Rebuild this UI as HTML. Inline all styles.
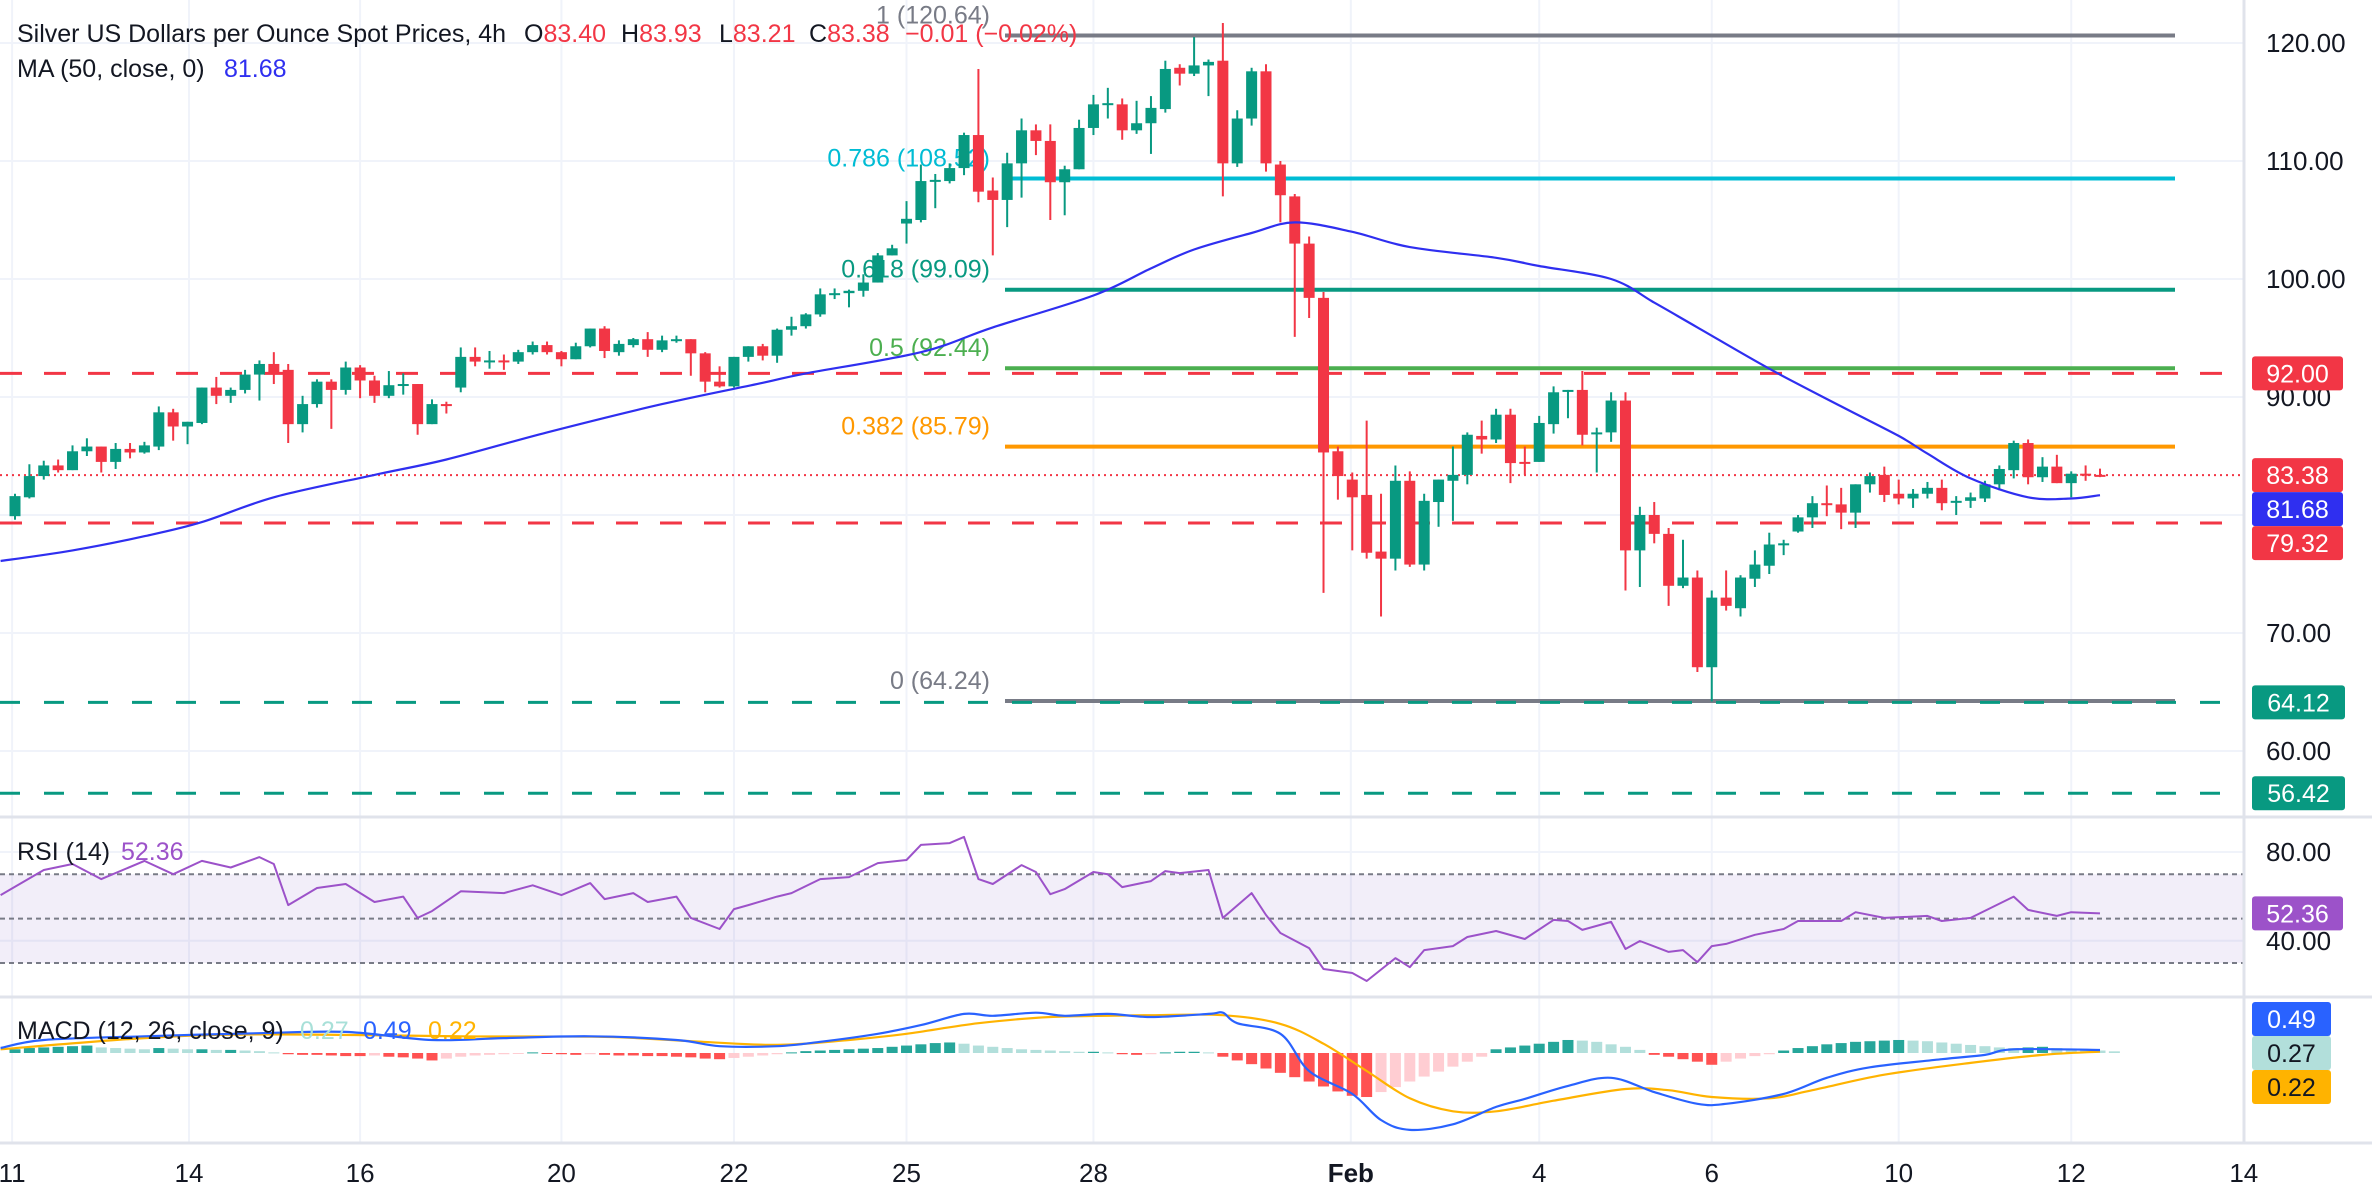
<!DOCTYPE html>
<html><head><meta charset="utf-8"><title>Silver 4h chart</title>
<style>
html,body{margin:0;padding:0;background:#fff;}
svg{display:block;font-family:"Liberation Sans",sans-serif;}
</style></head>
<body>
<svg id="chart" xmlns="http://www.w3.org/2000/svg" width="2372" height="1200" viewBox="0 0 2372 1200">
<rect x="0" y="0" width="2372" height="1200" fill="#ffffff"/>
<g id="grid"></g>
<g id="fib"></g>
<g id="levels"></g>
<g id="candles"></g>
<g id="ma"></g>
<g id="rsi"></g>
<g id="macd"></g>
<g id="axes"></g>
<g id="legend">
  <text x="17" y="42" font-size="25" fill="#131722">Silver US Dollars per Ounce Spot Prices, 4h</text>
  <text y="42" font-size="25"><tspan x="524" fill="#131722">O</tspan><tspan fill="#f23645">83.40</tspan><tspan x="621" fill="#131722">H</tspan><tspan fill="#f23645">83.93</tspan><tspan x="719" fill="#131722">L</tspan><tspan fill="#f23645">83.21</tspan><tspan x="809" fill="#131722">C</tspan><tspan fill="#f23645">83.38</tspan><tspan x="905" fill="#f23645">−0.01 (−0.02%)</tspan></text>
  <text x="17" y="77" font-size="25"><tspan fill="#131722">MA (50, close, 0)</tspan><tspan x="224" fill="#2f2ff0">81.68</tspan></text>
  <text x="17" y="860" font-size="25"><tspan fill="#131722">RSI (14)</tspan><tspan x="121" fill="#9c52c9">52.36</tspan></text>
  <text x="17" y="1039" font-size="25"><tspan fill="#131722">MACD (12, 26, close, 9)</tspan><tspan x="300" fill="#a8e0d8">0.27</tspan><tspan x="363" fill="#2962ff">0.49</tspan><tspan x="428" fill="#ffb300">0.22</tspan></text>
</g>
</svg>
<script>
// ---------- DATA ----------
const opens=[79.9,81.5,83.3,84.2,83.8,85.4,85.8,84.5,85.6,85.3,85.8,88.7,87.5,87.8,90.8,90.1,90.6,91.9,92.8,92.3,87.7,89.4,91.3,90.6,92.5,91.4,90.1,91.0,91.1,87.7,89.4,90.8,93.4,93.0,93.1,93.0,93.8,94.4,93.8,93.2,94.3,95.8,93.8,94.4,94.9,94.0,94.8,94.9,93.7,91.3,90.9,93.4,94.3,93.5,95.7,96.0,97.0,98.7,98.8,99.0,99.7,102.0,104.7,105.0,108.3,108.3,109.4,112.2,107.5,106.7,109.8,112.6,111.7,108.2,109.3,112.8,114.8,114.8,112.6,113.2,114.4,117.9,117.4,118.1,118.5,109.8,113.6,117.6,109.7,107.0,103.0,98.4,85.4,83.0,81.7,76.9,76.3,82.9,75.8,81.1,82.9,83.4,86.7,86.4,88.5,84.5,84.5,87.7,90.5,90.6,86.9,87.0,89.7,77.0,80.0,78.4,74.0,74.7,67.1,73.0,72.1,74.6,75.7,77.5,78.6,79.8,81.0,80.9,80.2,82.6,83.4,81.8,81.4,81.8,82.3,81.1,81.2,81.4,82.6,83.8,86.1,83.2,84.1,82.7,83.5,83.40];
const highs=[81.8,84.3,84.6,84.7,85.9,86.5,85.8,86.1,86.1,86.2,89.2,89.0,87.9,90.8,91.7,90.8,92.3,93.1,93.8,92.8,90.1,91.5,91.5,93.0,92.7,91.8,92.2,92.0,91.1,89.8,89.6,94.2,94.2,93.9,93.6,94.0,94.7,94.7,93.9,94.6,95.8,96.0,94.8,95.0,95.5,95.2,95.2,94.9,93.8,92.6,93.4,94.3,94.5,95.8,96.8,97.1,99.2,99.2,99.1,100.4,102.2,102.9,106.6,109.7,108.9,109.8,112.4,117.8,108.6,110.7,113.6,113.1,113.1,109.6,113.5,115.6,116.2,115.3,115.1,115.5,118.5,118.2,120.5,118.6,121.7,114.3,117.9,118.2,110.0,107.2,103.6,98.9,85.8,83.6,88.0,81.8,84.2,83.7,81.8,83.0,85.8,87.0,88.0,89.0,89.0,85.8,88.4,90.9,90.6,92.2,87.4,90.4,90.4,80.7,81.1,78.9,77.9,75.3,73.6,75.3,74.9,77.0,78.5,77.9,80.0,81.6,82.5,82.3,82.6,83.6,84.1,83.0,82.2,82.8,83.0,81.6,81.9,82.9,84.2,86.3,86.4,84.9,85.1,83.7,84.2,83.93];
const lows=[79.6,81.4,83.0,83.6,83.8,85.0,83.6,83.9,84.8,85.2,85.5,86.3,86.0,87.7,89.4,89.5,90.3,89.7,91.1,86.1,87.0,89.1,87.3,90.2,89.9,89.5,89.9,90.2,86.8,87.7,88.6,90.4,92.6,92.4,92.3,92.8,93.6,93.6,92.6,93.2,94.2,93.3,93.5,94.2,93.4,93.8,94.6,91.8,90.4,90.8,90.8,93.0,93.1,92.9,95.2,95.8,96.8,98.3,97.6,98.5,99.7,102.0,103.0,104.8,106.0,108.1,108.8,106.5,102.0,104.4,106.9,110.5,105.0,105.4,109.3,112.2,113.6,111.8,112.3,110.6,114.1,116.4,117.2,115.5,107.0,109.5,113.0,109.1,104.8,95.1,96.7,73.4,81.3,77.0,76.3,71.4,75.3,75.6,75.3,79.0,79.5,82.6,85.2,86.1,82.7,83.4,84.5,86.9,88.2,85.9,83.6,86.2,73.6,73.9,77.6,72.3,73.8,66.7,64.2,71.9,71.4,73.9,75.0,76.6,78.5,78.9,79.9,78.8,78.9,81.9,81.1,80.9,80.6,81.4,80.4,80.0,80.6,81.1,82.1,83.1,82.6,82.8,82.7,81.5,82.9,83.21];
const closes=[81.6,83.3,84.2,83.8,85.4,85.8,84.5,85.6,85.3,85.9,88.7,87.5,87.9,90.8,90.1,90.6,91.9,92.8,92.1,87.7,89.4,91.3,90.6,92.5,91.4,90.1,91.0,91.1,87.7,89.4,89.3,93.4,93.0,93.1,93.0,93.8,94.4,93.8,93.2,94.3,95.8,93.9,94.5,94.9,94.0,94.8,94.9,93.7,91.3,90.9,93.4,94.3,93.5,95.7,96.0,97.0,98.7,98.8,99.0,99.7,102.0,102.6,105.1,108.3,108.4,109.4,112.2,107.4,106.7,109.8,112.6,111.7,108.2,109.3,112.8,114.8,114.9,112.6,113.2,114.5,117.8,117.4,118.1,118.4,109.8,113.6,117.6,109.8,107.1,103.0,98.4,85.3,83.3,81.5,76.8,76.3,82.9,75.8,81.2,83.0,83.4,86.8,86.4,88.5,84.4,84.4,87.8,90.4,90.6,86.8,87.0,89.7,77.0,80.0,78.4,74.0,74.7,67.1,73.0,72.3,74.7,75.8,77.5,77.6,79.8,81.0,80.9,80.2,82.6,83.3,81.7,81.4,81.8,82.3,81.0,81.2,81.5,82.6,83.9,86.1,83.2,84.1,82.7,83.5,83.4,83.38];
// MA(50) readings at candle indices
const maIdx=[-1,4,9,13,18,25,30,37,45,52,55,63,68,75,79,82,86,89,93,97,103,106,111,114,117,122,127,131,133,136,140,143,145];
const maVal=[76.1,77.0,78.2,79.4,81.5,83.4,84.7,87.0,89.4,91.2,92.0,93.8,95.9,98.6,100.9,102.5,103.9,104.8,104.0,102.7,101.8,101.1,100.0,98.0,95.9,92.4,89.2,86.7,85.2,83.1,81.5,81.4,81.68];
// RSI readings
const rsiIdx=[-1,2,4,6,9,11,13,15,17,18,19,21,23,25,27,28,29,31,34,36,38,40,41,43,44,46,47,49,50,51,53,54,56,58,60,62,63,65,66,67,68,70,71,72,73,75,76,77,79,80,81,83,84,86,87,88,90,91,93,94,96,97,98,100,101,103,105,107,108,109,111,112,113,115,116,117,118,119,121,123,124,127,128,130,133,134,136,139,140,142,143,145];
const rsiVal=[60.6,71.9,74.6,67.8,76,70,76,73,77.7,74.6,56.1,63.8,65.6,57.5,59.9,50.3,53.4,62.3,61.5,65,60.6,66,58.8,61.5,57.5,59.9,50.3,45.3,54.3,56.1,59.9,61.5,67.8,68.7,75,76.4,83.2,84,86.8,67.8,65.6,74.1,71,61,63.3,71,70,64.2,66.9,71.4,70.5,71.9,50.3,61.5,51.6,43.5,36.7,27.3,25.5,21.9,32.2,28.1,35.8,37.6,41.7,44.4,40.8,49.4,48.9,44.9,48.5,36.3,39.9,35,35.8,30.4,37.6,38.6,42.7,45.3,48.9,48.9,52.9,50.3,51.2,48.9,50.3,59.9,53.9,51.2,52.9,52.36];
// MACD readings
const macdIdx=[-1,2,9,17,23,29,34,40,46,49,53,56,60,63,66,68,71,73,76,79,83,84,85,88,90,93,95,97,100,103,105,108,111,114,117,119,123,126,129,134,137,139,145];
const macdVal=[0.8,2.1,2.7,3.2,3.4,2.1,2.4,2.7,2.1,1.1,1.1,1.8,3.1,4.5,6.3,6.0,6.5,6.0,6.3,5.8,6.3,6.5,4.8,3.1,-2.9,-6.6,-10.8,-12.4,-11.5,-8.7,-7.4,-5.3,-4.0,-6.3,-8.2,-8.2,-6.6,-4.0,-2.3,-1.0,-0.3,0.6,0.49];
const sigIdx=[-1,9,17,31,41,47,53,58,62,67,72,79,84,88,91,94,97,100,103,107,112,115,118,122,125,130,136,141,145];
const sigVal=[0.6,2.4,3.0,2.7,2.6,1.9,1.3,2.1,3.1,4.8,5.8,6.1,6.1,4.7,1.5,-2.9,-7.3,-9.4,-9.4,-7.7,-5.8,-6.0,-7.1,-7.3,-6.0,-3.5,-1.6,-0.3,0.22];
const histVal=[0.6,0.8,0.9,1.0,1.1,1.2,0.9,0.8,0.7,0.6,0.8,0.7,0.6,0.6,0.5,0.5,0.4,0.3,0.1,-0.2,-0.3,-0.3,-0.4,-0.5,-0.5,-0.4,-0.6,-0.7,-0.9,-1.2,-0.9,-0.6,-0.4,-0.3,-0.2,-0.1,0.1,-0.1,-0.2,-0.3,-0.2,-0.3,-0.4,-0.4,-0.5,-0.5,-0.6,-0.7,-0.9,-1.0,-0.8,-0.6,-0.4,-0.2,0.1,0.3,0.4,0.5,0.6,0.7,0.8,1.0,1.2,1.4,1.6,1.7,1.5,1.2,1.0,0.8,0.6,0.5,0.4,0.3,0.2,0.2,0.1,-0.2,-0.3,-0.2,0.1,0.2,0.2,0.1,-0.6,-1.2,-1.8,-2.5,-3.2,-3.9,-4.6,-5.4,-6.2,-6.9,-7.1,-6.3,-5.5,-4.6,-3.8,-3.0,-2.2,-1.4,-0.6,0.6,0.9,1.2,1.5,1.8,2.1,2.0,1.8,1.4,1.0,0.5,-0.3,-0.6,-1.0,-1.4,-1.9,-1.4,-0.9,-0.5,-0.2,0.4,0.8,1.1,1.4,1.6,1.8,1.9,2.0,2.1,2.0,1.9,1.7,1.5,1.3,1.1,0.9,0.8,0.9,1.0,0.8,0.6,0.5,0.4,0.27];
const priceTicks=[120,110,100,90,70,60];
const rsiTicks=[80,40];
const dateLabels=["11","14","16","20","22","25","28","Feb","4","6","10","12","14"];
const dateIdx=[-0.2,12.1,24.0,38.0,50.0,62.0,75.0,92.9,106.0,118.0,131.0,143.0,155.0];
const fibNames=["1","0.786","0.618","0.5","0.382","0"];
const fibVals=[120.64,108.52,99.09,92.44,85.79,64.24];
const fibColors=["#787b86","#00bcd4","#089981","#4caf50","#ff9800","#787b86"];
const redLevels=[92.00,79.32];
const greenLevels=[64.12,56.42];
const lastPrice=83.38, lastMA=81.68, lastRSI=52.36;

// ---------- SCALES ----------
const N=opens.length;
const X0=15, STEP=2085/(N-1), PLOT_R=2244;
const xI=i=>X0+i*STEP;
const yP=p=>43+(120-p)*11.8;
const yR=v=>852+(80-v)*2.22;
const yM=v=>1053-v*6.2;
const NS="http://www.w3.org/2000/svg";
function mk(tag,attrs,parent){const e=document.createElementNS(NS,tag);for(const k in attrs)e.setAttribute(k,attrs[k]);parent.appendChild(e);return e;}
const G=id=>document.getElementById(id);
const GREEN="#089981", RED="#f23645";
function smoothPath(pts){let d='M'+pts[0][0].toFixed(1)+','+pts[0][1].toFixed(1);
for(let i=0;i<pts.length-1;i++){const p0=pts[i-1]||pts[i],p1=pts[i],p2=pts[i+1],p3=pts[i+2]||p2;
const c1=[p1[0]+(p2[0]-p0[0])/6,p1[1]+(p2[1]-p0[1])/6],c2=[p2[0]-(p3[0]-p1[0])/6,p2[1]-(p3[1]-p1[1])/6];
d+=' C'+c1[0].toFixed(1)+','+c1[1].toFixed(1)+' '+c2[0].toFixed(1)+','+c2[1].toFixed(1)+' '+p2[0].toFixed(1)+','+p2[1].toFixed(1);}
return d;}

// ---------- GRID ----------
const grid=G('grid');
priceTicks.concat([80]).forEach(p=>{const l=mk('line',{x1:0,x2:PLOT_R,y1:yP(p),y2:yP(p),stroke:'#f0f3fa','stroke-width':2},grid);

});
rsiTicks.forEach(v=>{const l=mk('line',{x1:0,x2:PLOT_R,y1:yR(v),y2:yR(v),stroke:'#f0f3fa','stroke-width':2},grid);

});
dateIdx.forEach(d=>{const x=xI(d);const l=mk('line',{x1:x,x2:x,y1:0,y2:1143,stroke:'#f0f3fa','stroke-width':2},grid);

});

// ---------- FIB ----------
const fib=G('fib');
fibVals.forEach((v,k)=>{const y=yP(v);
const l=mk('line',{x1:1005,x2:2175,y1:y,y2:y,stroke:fibColors[k],'stroke-width':4},fib);


const t=mk('text',{x:990,y:y-12,'font-size':25,fill:fibColors[k],'text-anchor':'end'},fib);
t.textContent=fibNames[k]+' ('+v.toFixed(2)+')';

});

// ---------- LEVELS ----------
const lv=G('levels');
redLevels.forEach(v=>{const l=mk('line',{x1:0,x2:PLOT_R,y1:yP(v),y2:yP(v),stroke:RED,'stroke-width':3,'stroke-dasharray':'22 22'},lv);

});
greenLevels.forEach(v=>{const l=mk('line',{x1:0,x2:PLOT_R,y1:yP(v),y2:yP(v),stroke:GREEN,'stroke-width':3,'stroke-dasharray':'20 24'},lv);

});
const pl=mk('line',{x1:0,x2:PLOT_R,y1:yP(lastPrice),y2:yP(lastPrice),stroke:RED,'stroke-width':2,'stroke-dasharray':'2 4'},lv);



// ---------- CANDLES ----------
const cg=G('candles');
for(let i=0;i<N;i++){const up=closes[i]>=opens[i];const col=up?GREEN:RED;const x=xI(i);
const w=mk('line',{x1:x,x2:x,y1:yP(highs[i]),y2:yP(lows[i]),stroke:col,'stroke-width':2},cg);


const top=yP(Math.max(opens[i],closes[i])),bot=yP(Math.min(opens[i],closes[i]));
const b=mk('rect',{x:x-5.5,y:top,width:11,height:Math.max(2,bot-top),fill:col},cg);

}

// ---------- MA ----------
const maL=mk('path',{d:smoothPath(maIdx.map((d,k)=>[xI(d),yP(maVal[k])])),fill:'none',stroke:'#2f2ff0','stroke-width':2.2,'stroke-linejoin':'round'},G('ma'));



// ---------- RSI ----------
const rg=G('rsi');
const band=mk('rect',{x:0,y:yR(70),width:PLOT_R,height:yR(30)-yR(70),fill:'rgba(126,87,194,0.1)'},rg);


[70,50,30].forEach(v=>{const l=mk('line',{x1:0,x2:PLOT_R,y1:yR(v),y2:yR(v),stroke:'#787b86','stroke-width':2,'stroke-dasharray':'5 4'},rg);

});
const rPts=rsiIdx.map((d,k)=>xI(d).toFixed(1)+','+yR(rsiVal[k]).toFixed(1)).join(' ');
const rL=mk('polyline',{points:rPts,fill:'none',stroke:'#9c52c9','stroke-width':2,'stroke-linejoin':'round'},rg);



// ---------- MACD ----------
const mg=G('macd');
for(let i=0;i<histVal.length;i++){const v=histVal[i];const prev=i>0?histVal[i-1]:0;let col;
if(v>=0)col=(v>=prev)?'#26a69a':'#b2dfdb';else col=(v<=prev)?'#ff5252':'#ffcdd2';
const y0=yM(0),y1=yM(v);
const r=mk('rect',{x:xI(i)-5.5,y:Math.min(y0,y1),width:11,height:Math.max(1,Math.abs(y1-y0)),fill:col},mg);

}
const sL=mk('path',{d:smoothPath(sigIdx.map((d,k)=>[xI(d),yM(sigVal[k])])),fill:'none',stroke:'#ffb300','stroke-width':2.2,'stroke-linejoin':'round'},mg);


const mL=mk('path',{d:smoothPath(macdIdx.map((d,k)=>[xI(d),yM(macdVal[k])])),fill:'none',stroke:'#2962ff','stroke-width':2.2,'stroke-linejoin':'round'},mg);



// ---------- AXES ----------
const ax=G('axes');
[[0,817,2372,817],[0,997,2372,997],[2244,0,2244,1143],[0,1143,2372,1143]].forEach(c=>{const l=mk('line',{x1:c[0],y1:c[1],x2:c[2],y2:c[3],stroke:'#e0e3eb','stroke-width':3},ax);

});
priceTicks.forEach(p=>{const t=mk('text',{x:2266,y:yP(p)+9,'font-size':26,fill:'#131722'},ax);t.textContent=p.toFixed(2);

});
rsiTicks.forEach(v=>{const t=mk('text',{x:2266,y:yR(v)+9,'font-size':26,fill:'#131722'},ax);t.textContent=v.toFixed(2);

});
dateLabels.forEach((s,k)=>{const t=mk('text',{x:xI(dateIdx[k]),y:1182,'font-size':26,fill:'#131722','text-anchor':'middle','font-weight':s==='Feb'?'bold':'normal'},ax);t.textContent=s;

});
function tag(val,cy,bg,fg,name,w){const g=mk('g',{},ax);


mk('rect',{x:2252,y:cy-17,width:w,height:34,rx:3,fill:bg},g);
const t=mk('text',{x:2252+w/2,y:cy+9,'font-size':25,fill:fg,'text-anchor':'middle'},g);t.textContent=val;}
tag('92.00',yP(92),RED,'#fff','level-tag-92',91);
tag(lastPrice.toFixed(2),yP(lastPrice),RED,'#fff','last-price-tag',91);
tag(lastMA.toFixed(2),yP(lastPrice)+34,'#2f2ff0','#fff','ma-value-tag',91);
tag('79.32',yP(lastPrice)+68,RED,'#fff','level-tag-79',91);
tag('64.12',yP(64.12),GREEN,'#fff','level-tag-64',93);
tag('56.42',yP(56.42),GREEN,'#fff','level-tag-56',93);
tag(lastRSI.toFixed(2),yR(lastRSI),'#9c52c9','#fff','rsi-value-tag',91);
tag('0.49',1019,'#2962ff','#fff','macd-value-tag',79);
tag('0.27',1053,'#b2dfdb','#131722','histogram-value-tag',79);
tag('0.22',1087,'#ffb300','#131722','signal-value-tag',79);
</script>
</body></html>
